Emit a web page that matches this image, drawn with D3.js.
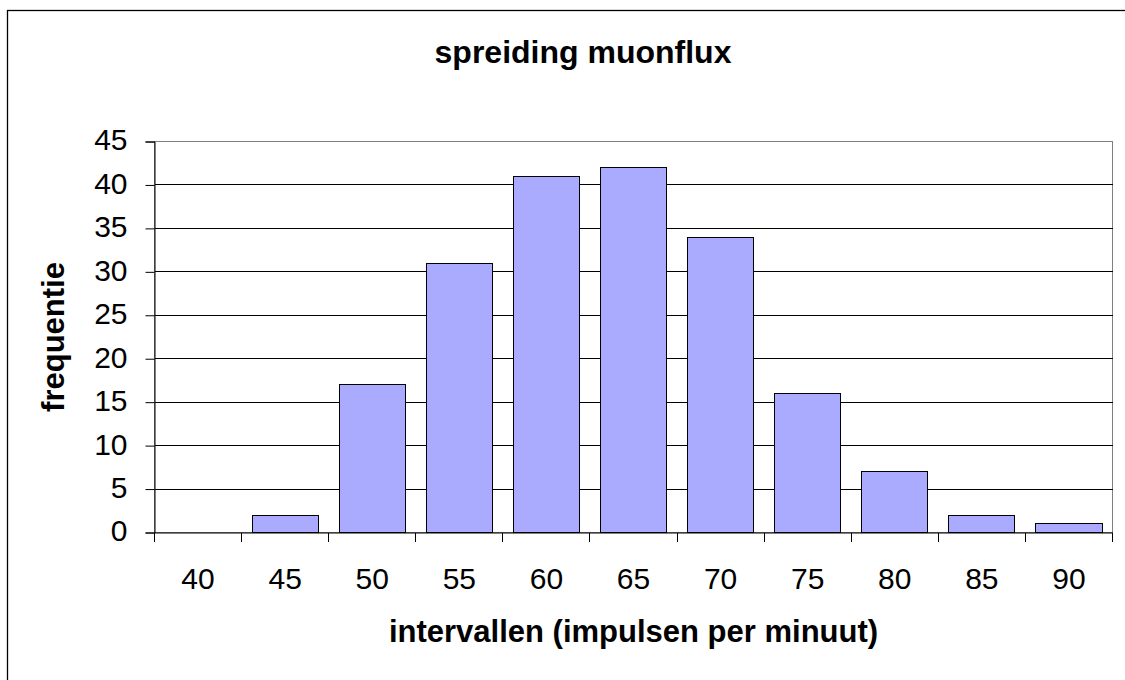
<!DOCTYPE html>
<html>
<head>
<meta charset="utf-8">
<script src="https://cdn.jsdelivr.net/npm/d3@7"></script>
<style>
  body { margin: 0; background: #fff; }
  text { font-family: "Liberation Sans", Arial, sans-serif; fill: #000; }
</style>
</head>
<body>
<svg id="chart" width="1125" height="680"></svg>
<script>
// data
var categories = ['40', '45', '50', '55', '60', '65', '70', '75', '80', '85', '90'];
var frequencies = [0, 2, 17, 31, 41, 42, 34, 16, 7, 2, 1];
var yTicks = [0, 5, 10, 15, 20, 25, 30, 35, 40, 45];

var svg = d3.select('#chart');

// plot area
var plotLeft = 154.5, plotRight = 1112.5, plotTop = 141.5, plotBottom = 532.5;

// outer chart border (runs off the picture on the right and bottom)
svg.append('rect')
    .attr('x', 7.5).attr('y', 10.5)
    .attr('width', 1200).attr('height', 700)
    .attr('fill', 'white')
    .attr('stroke', '#000')
    .attr('stroke-width', 1.3);

var x = d3.scaleBand()
    .domain(categories)
    .range([plotLeft, plotRight])
    .padding(0);

var y = d3.scaleLinear()
    .domain([0, 45])
    .range([plotBottom, plotTop]);

// plot area border
svg.append('rect')
    .attr('x', plotLeft).attr('y', plotTop)
    .attr('width', plotRight - plotLeft).attr('height', plotBottom - plotTop)
    .attr('fill', 'none')
    .attr('stroke', '#808080')
    .attr('shape-rendering', 'crispEdges');

// gridlines
svg.append('g')
    .selectAll('line')
    .data(yTicks.filter(d => d > 0 && d < 45))
    .enter()
    .append('line')
    .attr('x1', plotLeft).attr('x2', plotRight)
    .attr('y1', d => y(d)).attr('y2', d => y(d))
    .attr('stroke', '#000')
    .attr('shape-rendering', 'crispEdges');

// bars (Excel-like gap)
var gap = 0.24;
svg.append('g')
    .selectAll('rect')
    .data(categories.map((c, i) => ({ cat: c, val: frequencies[i] })).filter(d => d.val > 0))
    .enter()
    .append('rect')
    .attr('x', d => x(d.cat) + x.bandwidth() * gap / 2)
    .attr('width', x.bandwidth() * (1 - gap))
    .attr('y', d => y(d.val))
    .attr('height', d => y(0) - y(d.val))
    .attr('fill', '#aaaaff')
    .attr('stroke', '#000')
    .attr('stroke-width', 1)
    .attr('shape-rendering', 'crispEdges');

// y axis
var yAxis = svg.append('g')
    .attr('transform', 'translate(' + plotLeft + ',0)')
    .call(d3.axisLeft(y).tickValues(yTicks).tickSize(9).tickPadding(18));
yAxis.select('.domain').attr('stroke', '#000');
yAxis.selectAll('.tick line').attr('stroke', '#000');
yAxis.selectAll('.tick text')
    .attr('dy', '0.28em')
    .style('font-family', '"Liberation Sans", Arial, sans-serif')
    .style('font-size', '30px')
    .attr('fill', '#000');

// x axis: line, ticks at band boundaries, labels at band centres
var xAxis = svg.append('g')
    .attr('transform', 'translate(0,' + plotBottom + ')')
    .call(d3.axisBottom(x).tickSize(0).tickPadding(0));
xAxis.select('.domain').attr('stroke', '#000');
xAxis.selectAll('.tick text')
    .attr('y', 56)
    .attr('dy', 0)
    .style('font-family', '"Liberation Sans", Arial, sans-serif')
    .style('font-size', '30px')
    .attr('fill', '#000');

var bounds = categories.map(c => x(c)).concat([plotRight]);
svg.append('g')
    .selectAll('line')
    .data(bounds)
    .enter()
    .append('line')
    .attr('x1', d => d).attr('x2', d => d)
    .attr('y1', plotBottom).attr('y2', plotBottom + 9)
    .attr('stroke', '#000')
    .attr('shape-rendering', 'crispEdges');

// titles
svg.append('text')
    .attr('x', 583).attr('y', 63)
    .attr('text-anchor', 'middle')
    .style('font-size', '32px')
    .style('font-weight', 'bold')
    .text('spreiding muonflux');

svg.append('text')
    .attr('x', (plotLeft + plotRight) / 2).attr('y', 642)
    .attr('text-anchor', 'middle')
    .style('font-size', '31px')
    .style('font-weight', 'bold')
    .text('intervallen (impulsen per minuut)');

svg.append('text')
    .attr('transform', 'translate(64,337) rotate(-90)')
    .attr('text-anchor', 'middle')
    .style('font-size', '31px')
    .style('font-weight', 'bold')
    .text('frequentie');
</script>
</body>
</html>
